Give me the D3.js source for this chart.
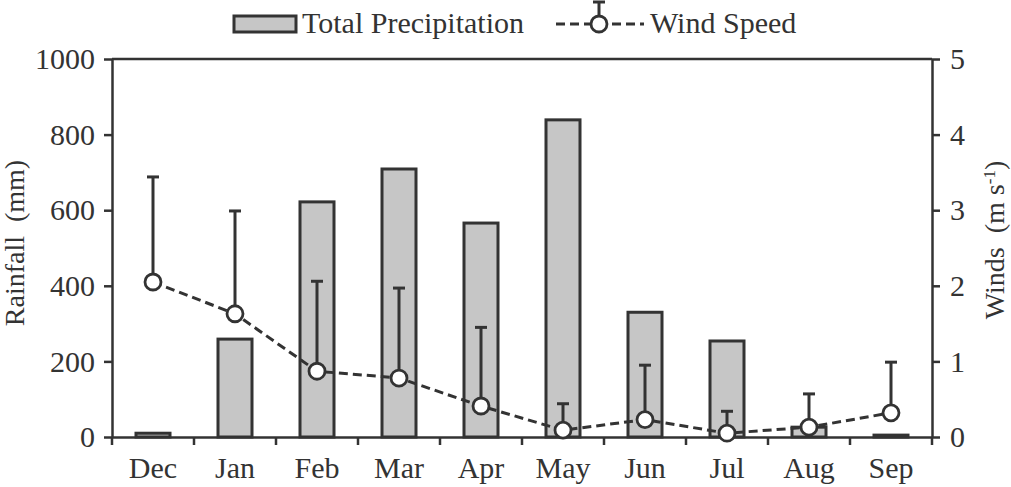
<!DOCTYPE html>
<html><head><meta charset="utf-8">
<script src="https://cdn.jsdelivr.net/npm/d3@7"></script>
<style>body{margin:0;background:#fff}svg{display:block}</style>
</head><body><svg id="c" width="1011" height="487"></svg>
<script>
const months = ["Dec","Jan","Feb","Mar","Apr","May","Jun","Jul","Aug","Sep"];
const rainfall = [10,259,622,709,566,839,330,254,26,5];
const wind = [2.05,1.63,0.87,0.78,0.41,0.09,0.23,0.05,0.13,0.32];
const windUpper = [3.44,2.99,2.06,1.97,1.45,0.44,0.95,0.34,0.57,0.99];
const rainTicks = [0,200,400,600,800,1000];
const windTicks = [0,1,2,3,4,5];

const svg = d3.select("#c");
const L=112, R=932, T=59, B=437;
const ink="#333", font="'Liberation Serif','Times New Roman',serif", fs=30;
const x = d3.scaleBand().domain(months).range([L,R]);
const yL = d3.scaleLinear().domain([0,1000]).range([B,T]);
const yR = d3.scaleLinear().domain([0,5]).range([B,T]);

// bars
const bw = 34;
svg.append("g").selectAll("rect").data(months).join("rect")
  .attr("x",(d)=>x(d)+x.bandwidth()/2-bw/2)
  .attr("y",(d,i)=>yL(rainfall[i]))
  .attr("width",bw)
  .attr("height",(d,i)=>B-yL(rainfall[i]))
  .attr("fill","#c6c6c6").attr("stroke",ink).attr("stroke-width",3);

// top frame
svg.append("line").attr("x1",L).attr("x2",R).attr("y1",T).attr("y2",T).attr("stroke",ink).attr("stroke-width",2.5);

// axes
function style(g){
  g.attr("font-family",null);
  g.select(".domain").attr("stroke",ink).attr("stroke-width",2.5);
  g.selectAll(".tick line").attr("stroke",ink).attr("stroke-width",2.5);
  g.selectAll("text").attr("fill",ink).style("font-family",font).style("font-size",fs+"px");
}
const ax = svg.append("g").attr("transform",`translate(0,${B})`)
  .call(d3.axisBottom(x).tickSize(0).tickSizeOuter(0).tickPadding(41));
style(ax);
ax.selectAll("text").attr("dy","0");
// band boundary ticks
const bounds = months.map(m=>x(m)).concat([R]);
svg.append("g").selectAll("line").data(bounds).join("line")
  .attr("x1",d=>d).attr("x2",d=>d).attr("y1",B).attr("y2",B+8)
  .attr("stroke",ink).attr("stroke-width",2.5);

const al = svg.append("g").attr("transform",`translate(${L},0)`)
  .call(d3.axisLeft(yL).tickValues(rainTicks).tickFormat(d3.format("d")).tickSize(8).tickSizeOuter(0).tickPadding(9));
style(al);
const ar = svg.append("g").attr("transform",`translate(${R},0)`)
  .call(d3.axisRight(yR).tickValues(windTicks).tickFormat(d3.format("d")).tickSize(8).tickSizeOuter(0).tickPadding(10));
style(ar);

// axis titles
svg.append("text").attr("transform",`translate(24,243) rotate(-90)`)
  .attr("text-anchor","middle").attr("fill",ink).style("font-family",font).style("font-size","28px")
  .attr("xml:space","preserve").text("Rainfall  (mm)");
const wt = svg.append("text").attr("transform",`translate(1004,240) rotate(-90)`)
  .attr("text-anchor","middle").attr("fill",ink).style("font-family",font).style("font-size","28px")
  .attr("xml:space","preserve");
wt.append("tspan").text("Winds  (m s");
wt.append("tspan").attr("baseline-shift","super").style("font-size","17px").text("-1");
wt.append("tspan").text(")");

// wind error bars
const cx = d => x(d)+x.bandwidth()/2;
const eg = svg.append("g").attr("stroke",ink).attr("stroke-width",3);
eg.selectAll("line.v").data(months).join("line").attr("class","v")
  .attr("x1",cx).attr("x2",cx).attr("y1",(d,i)=>yR(wind[i])).attr("y2",(d,i)=>yR(windUpper[i]));
eg.selectAll("line.c").data(months).join("line").attr("class","c")
  .attr("x1",d=>cx(d)-6).attr("x2",d=>cx(d)+6).attr("y1",(d,i)=>yR(windUpper[i])).attr("y2",(d,i)=>yR(windUpper[i]));

// wind line
svg.append("path").datum(months)
  .attr("d",d3.line().x(cx).y((d,i)=>yR(wind[i])))
  .attr("fill","none").attr("stroke",ink).attr("stroke-width",3).attr("stroke-dasharray","9,5");
svg.append("g").selectAll("circle").data(months).join("circle")
  .attr("cx",cx).attr("cy",(d,i)=>yR(wind[i])).attr("r",8)
  .attr("fill","#fff").attr("stroke",ink).attr("stroke-width",2.8);

// legend
const lg = svg.append("g");
lg.append("rect").attr("x",234).attr("y",16).attr("width",62).attr("height",16)
  .attr("fill","#c6c6c6").attr("stroke",ink).attr("stroke-width",3);
lg.append("text").attr("x",302).attr("y",33).attr("fill",ink).style("font-family",font).style("font-size",fs+"px").text("Total Precipitation");
lg.append("line").attr("x1",556).attr("x2",644).attr("y1",24).attr("y2",24)
  .attr("stroke",ink).attr("stroke-width",3).attr("stroke-dasharray","9,5");
lg.append("line").attr("x1",599).attr("x2",599).attr("y1",2).attr("y2",24).attr("stroke",ink).attr("stroke-width",3);
lg.append("line").attr("x1",593).attr("x2",605).attr("y1",2).attr("y2",2).attr("stroke",ink).attr("stroke-width",3);
lg.append("circle").attr("cx",599).attr("cy",24).attr("r",8).attr("fill","#fff").attr("stroke",ink).attr("stroke-width",2.8);
lg.append("text").attr("x",650).attr("y",33).attr("fill",ink).style("font-family",font).style("font-size",fs+"px").text("Wind Speed");
</script></body></html>
